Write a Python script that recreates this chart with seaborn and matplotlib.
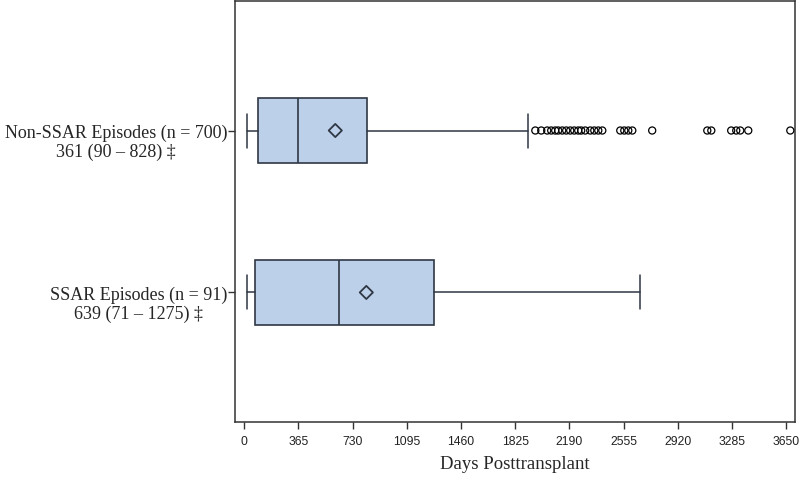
import numpy as np
import pandas as pd
import matplotlib
matplotlib.use('Agg')
import matplotlib.pyplot as plt
import seaborn as sns

# values (days posttransplant)
groups = ['Non-SSAR Episodes (n = 700)\n361 (90 \u2013 828) \u2021',
          'SSAR Episodes (n = 91)\n639 (71 \u2013 1275) \u2021']
whisker_lo = [20, 20]
q1 = [90, 71]
median = [361, 639]
q3 = [828, 1275]
whisker_hi = [1909, 2667]
means = [613, 822]
nonssar_fliers = [1960, 2000, 2040, 2067, 2094, 2114, 2141, 2168, 2195, 2222,
                  2249, 2269, 2296, 2330, 2357, 2384, 2411, 2532, 2559, 2586,
                  2613, 2747, 3118, 3145, 3279, 3313, 3340, 3394, 3677]
ssar_fliers = []
xticks = [0, 365, 730, 1095, 1460, 1825, 2190, 2555, 2920, 3285, 3650]

sns.set_style('white')
plt.rcParams['font.family'] = ['Liberation Serif', 'DejaVu Serif']

box_face = '#bcd0ea'
edge = '#2f3744'

fig = plt.figure(figsize=(8, 4.79), dpi=100)
ax = fig.add_axes([0.294, 0.119, 0.7, 0.879])

stats = []
for i in range(len(groups)):
    stats.append({'whislo': whisker_lo[i], 'q1': q1[i], 'med': median[i],
                  'q3': q3[i], 'whishi': whisker_hi[i], 'fliers': []})

ax.bxp(stats, positions=[0, 1], widths=0.4, capwidths=0.21,
       orientation='horizontal', patch_artist=True, showfliers=False,
       boxprops=dict(facecolor=box_face, edgecolor=edge, linewidth=1.2),
       medianprops=dict(color=edge, linewidth=1.2),
       whiskerprops=dict(color=edge, linewidth=1.1),
       capprops=dict(color=edge, linewidth=1.1),
       manage_ticks=False)

fl = pd.DataFrame({'days': nonssar_fliers + ssar_fliers,
                   'pos': [0] * len(nonssar_fliers) + [1] * len(ssar_fliers)})
sns.scatterplot(data=fl, x='days', y='pos', marker='o', s=26,
                facecolors='none', edgecolors='black', linewidth=0.9,
                ax=ax, zorder=3, legend=False)

mn = pd.DataFrame({'days': means, 'pos': [0, 1]})
sns.scatterplot(data=mn, x='days', y='pos', marker='D', s=45,
                facecolors='none', edgecolors=edge, linewidth=1.3,
                ax=ax, zorder=4, legend=False)

ax.set_xlim(-61, 3710)
ax.set_ylim(1.8, -0.8)
ax.set_xticks(xticks)
ax.set_xticklabels([str(t) for t in xticks], family='Liberation Sans',
                   fontsize=8.7, color='#222222')
ax.set_yticks([0, 1])
ax.set_yticklabels([])
# group labels: first line level with the tick, second line below it
for pos, lab in enumerate(groups):
    ax.annotate(lab, xy=(0, pos), xycoords=('axes fraction', 'data'),
                xytext=(-5.5, -19), textcoords='offset points',
                ha='right', va='baseline', multialignment='center',
                fontsize=13, linespacing=1.12)
ax.tick_params(axis='both', direction='out', length=5, width=1,
               color='#333333', left=True, bottom=True)
ax.tick_params(axis='x', pad=5)
ax.set_xlabel('Days Posttransplant', fontsize=13.5, labelpad=6)
ax.set_ylabel('')
for s in ax.spines.values():
    s.set_color('#333333')
    s.set_linewidth(1.1)

fig.savefig('out.png', dpi=100)
